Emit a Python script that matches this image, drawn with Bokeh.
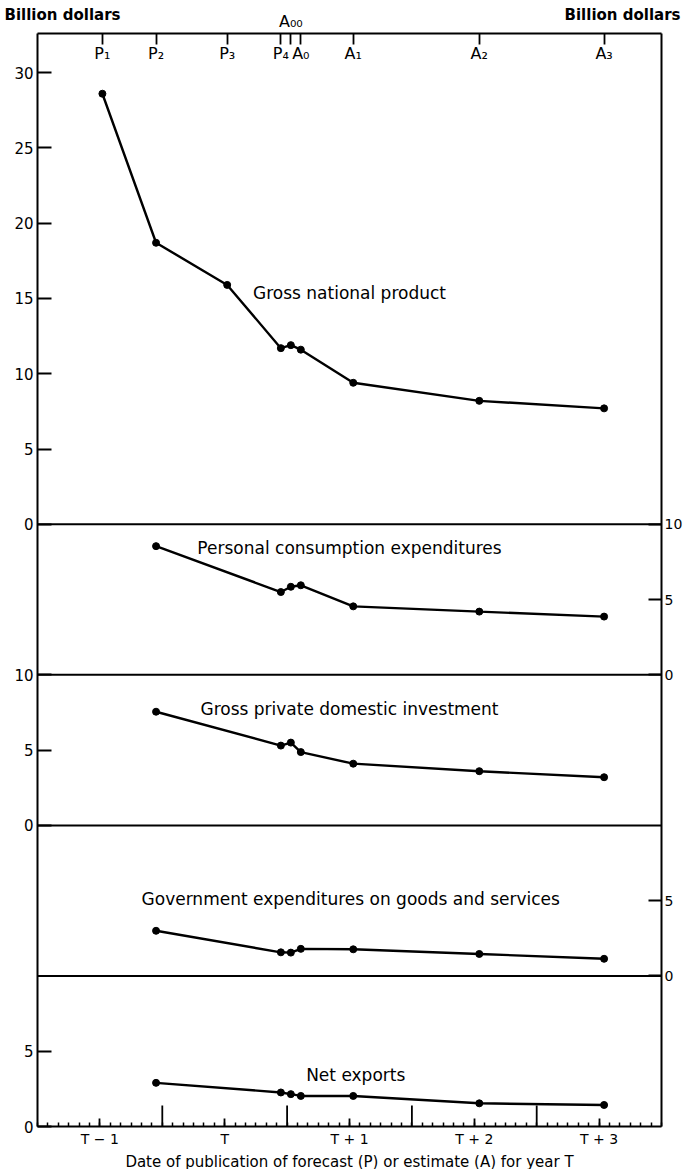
from bokeh.plotting import figure
from bokeh.models import Range1d, FixedTicker, LinearAxis
from bokeh.core.properties import value
from bokeh.embed import file_html
from bokeh.resources import INLINE

# ---------------- data ----------------
point_names = ["P1", "P2", "P3", "P4", "A00", "A0", "A1", "A2", "A3"]
point_labels = ["P₁", "P₂", "P₃", "P₄", "A₀₀", "A₀", "A₁", "A₂", "A₃"]
# publication date, in years from the start of year T-1
point_dates = [0.52, 0.95, 1.52, 1.95, 2.03, 2.11, 2.53, 3.54, 4.54]

gnp = [28.6, 18.7, 15.9, 11.7, 11.9, 11.6, 9.4, 8.2, 7.7]

component_points = ["P2", "P4", "A00", "A0", "A1", "A2", "A3"]
pce = [8.55, 5.5, 5.85, 5.95, 4.55, 4.2, 3.87]
gpdi = [7.55, 5.3, 5.5, 4.87, 4.1, 3.6, 3.2]
gov = [3.0, 1.57, 1.55, 1.8, 1.77, 1.46, 1.14]
nx = [2.9, 2.26, 2.15, 2.03, 2.03, 1.54, 1.43]

year_labels = ["T − 1", "T", "T + 1", "T + 2", "T + 3"]
series_names = ["Gross national product",
                "Personal consumption expenditures",
                "Gross private domestic investment",
                "Government expenditures on goods and services",
                "Net exports"]
unit_caption = "Billion dollars"

# ---------------- layout ----------------
W, H = 683, 1169
BOX_L, BOX_R, BOX_T, BOX_B = 37, 661, 33, 1126     # chart box in page pixels
NYEARS = len(year_labels)
Y_TOP = 72.6
PX_X = (BOX_R - BOX_L) / NYEARS
PX_Y = (BOX_B - BOX_T) / Y_TOP
FONT = "DejaVu Sans"

# vertical offset of each stacked panel (panel-local value + base)
bases = {"gnp": 40, "pce": 30, "gpdi": 20, "gov": 10, "nx": 0}

p = figure(frame_width=W, frame_height=H, min_border=0,
           x_range=Range1d(-BOX_L / PX_X, NYEARS + (W - BOX_R) / PX_X),
           y_range=Range1d(-(H - BOX_B) / PX_Y, Y_TOP + BOX_T / PX_Y),
           output_backend="svg", toolbar_location=None, title=None)
p.grid.visible = False
p.outline_line_color = None
p.background_fill_color = "white"
p.border_fill_color = "white"

# panel dividers
div_y = [bases["nx"] + 10, bases["gov"] + 10, bases["gpdi"] + 10, bases["pce"] + 10]
p.segment(x0=[0] * len(div_y), y0=div_y, x1=[NYEARS] * len(div_y), y1=div_y,
          line_color="black", line_width=2)

# series
idx = {n: i for i, n in enumerate(point_names)}
cx = [point_dates[idx[n]] for n in component_points]

def draw(xs, vals, base):
    ys = [v + base for v in vals]
    p.line(xs, ys, line_color="black", line_width=2.4)
    p.scatter(xs, ys, size=7, color="black")

draw(point_dates, gnp, bases["gnp"])
draw(cx, pce, bases["pce"])
draw(cx, gpdi, bases["gpdi"])
draw(cx, gov, bases["gov"])
draw(cx, nx, bases["nx"])

# series titles
label_keys = ["gnp", "pce", "gpdi", "gov", "nx"]
label_x = [2.5, 2.5, 2.5, 2.51, 2.55]
label_local_y = [15.37, 8.45, 7.7, 5.08, 3.42]
p.text(x=label_x, y=[v + bases[k] for v, k in zip(label_local_y, label_keys)],
       text=series_names, text_font=value(FONT), text_font_size="17px",
       text_align="center", text_baseline="middle", text_color="black")

# labels of publication dates under the top edge (A00 is labelled above it)
in_x = [d for d, n in zip(point_dates, point_names) if n != "A00"]
in_t = [l for l, n in zip(point_labels, point_names) if n != "A00"]
p.text(x=in_x, y=[Y_TOP - 20 / PX_Y] * len(in_x), text=in_t,
       text_font=value(FONT), text_font_size="16px",
       text_align="center", text_baseline="middle", text_color="black")

# unit captions above the box
cap_y = Y_TOP + 19 / PX_Y
p.text(x=[-33 / PX_X], y=[cap_y], text=[unit_caption],
       text_font=value(FONT), text_font_style="bold", text_font_size="15px",
       text_align="left", text_baseline="middle", text_color="black")
p.text(x=[NYEARS + 19 / PX_X], y=[cap_y], text=[unit_caption],
       text_font=value(FONT), text_font_style="bold", text_font_size="15px",
       text_align="right", text_baseline="middle", text_color="black")

# year boundary ticks (tall) at the bottom
bounds = list(range(1, NYEARS))
p.segment(x0=bounds, y0=[0] * len(bounds), x1=bounds, y1=[21 / PX_Y] * len(bounds),
          line_color="black", line_width=1.8)

def style_axis(ax, size="15px"):
    ax.axis_line_color = "black"
    ax.axis_line_width = 2
    ax.major_tick_line_color = "black"
    ax.major_tick_line_width = 1.8
    ax.major_tick_out = 0
    ax.minor_tick_line_color = None
    ax.major_label_text_font = FONT
    ax.major_label_text_font_size = size
    ax.major_label_text_color = "black"

# bottom axis
xa = p.xaxis[0]
style_axis(xa, "14px")
xa.fixed_location = 0
xa.bounds = (0, NYEARS)
xa.ticker = FixedTicker(ticks=[i + 0.5 for i in range(NYEARS)],
                        minor_ticks=[m / 12 for m in range(12 * NYEARS + 1)])
xa.major_label_overrides = {i + 0.5: lab for i, lab in enumerate(year_labels)}
xa.major_tick_in = 8
xa.minor_tick_line_color = "black"
xa.minor_tick_line_width = 1.5
xa.minor_tick_in = 4
xa.minor_tick_out = 0
xa.major_label_standoff = 4
xa.axis_label = "Date of publication of forecast (P) or estimate (A) for year T"
xa.axis_label_text_font = FONT
xa.axis_label_text_font_size = "15px"
xa.axis_label_text_font_style = "normal"
xa.axis_label_text_color = "black"
xa.axis_label_standoff = 3

# left axis: GNP, gross private domestic investment, net exports
left_scales = [("nx", [0, 5]), ("gpdi", [0, 5, 10]), ("gnp", [0, 5, 10, 15, 20, 25, 30])]
left_ticks = {}
for k, vals in left_scales:
    for v in vals:
        left_ticks[bases[k] + v] = str(v)
ya = p.yaxis[0]
style_axis(ya, "15px")
ya.fixed_location = 0
ya.bounds = (0, Y_TOP)
ya.ticker = FixedTicker(ticks=sorted(left_ticks))
ya.major_label_overrides = left_ticks
ya.major_tick_in = 14
ya.major_label_standoff = 4

# right axis: personal consumption, government
right_scales = [("gov", [0, 5]), ("pce", [0, 5, 10])]
right_ticks = {}
for k, vals in right_scales:
    for v in vals:
        right_ticks[bases[k] + v] = str(v)
ra = LinearAxis(ticker=FixedTicker(ticks=sorted(right_ticks)),
                major_label_overrides=right_ticks,
                fixed_location=NYEARS, bounds=(0, Y_TOP))
style_axis(ra, "14px")
ra.major_tick_in = 13
ra.major_label_standoff = 3
p.add_layout(ra, "right")

# top axis: publication dates (ticks hang from the top edge)
ta = LinearAxis(ticker=FixedTicker(ticks=point_dates),
                major_label_overrides={d: (l if n == "A00" else "")
                                       for d, l, n in zip(point_dates, point_labels, point_names)},
                fixed_location=Y_TOP, bounds=(0, NYEARS))
style_axis(ta, "16px")
ta.major_tick_in = 11
ta.major_label_standoff = 3
p.add_layout(ta, "above")

open("out.html", "w").write(file_html(p, INLINE))
